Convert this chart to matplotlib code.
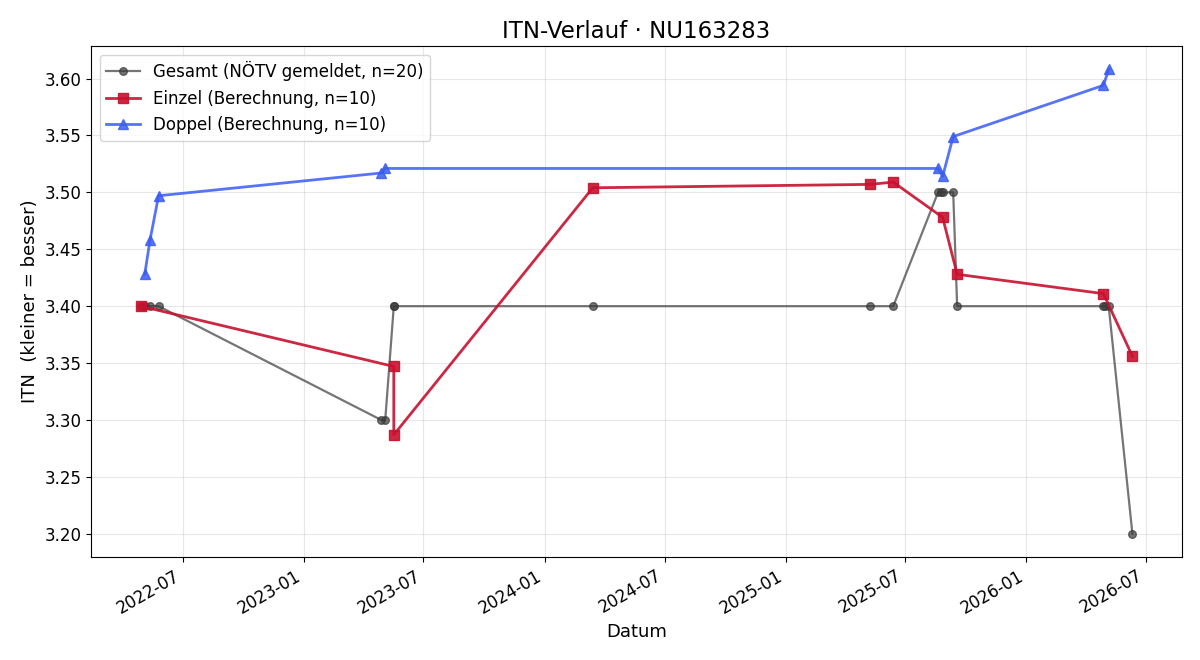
import pandas as pd
import matplotlib
matplotlib.use("Agg")
import matplotlib.pyplot as plt
import matplotlib.dates as mdates

# ===== Daten =====
gesamt_datum = ["2022-04-28", "2022-05-04", "2022-05-12", "2022-05-25",
                "2023-04-28", "2023-05-04", "2023-05-17", "2023-05-17",
                "2024-03-14", "2025-05-09", "2025-06-13", "2025-08-20",
                "2025-08-24", "2025-08-27", "2025-09-12", "2025-09-18",
                "2026-04-28", "2026-04-30", "2026-05-06", "2026-06-11"]
gesamt_itn = [3.40, 3.40, 3.40, 3.40,
              3.30, 3.30, 3.40, 3.40,
              3.40, 3.40, 3.40, 3.50,
              3.50, 3.50, 3.50, 3.40,
              3.40, 3.40, 3.40, 3.20]

einzel_datum = ["2022-04-28", "2023-05-17", "2023-05-17", "2024-03-14",
                "2025-05-09", "2025-06-13", "2025-08-27", "2025-09-18",
                "2026-04-28", "2026-06-11"]
einzel_itn = [3.400, 3.347, 3.287, 3.504, 3.507, 3.509, 3.478, 3.428,
              3.411, 3.356]

doppel_datum = ["2022-05-04", "2022-05-12", "2022-05-25", "2023-04-28",
                "2023-05-04", "2025-08-20", "2025-08-27", "2025-09-12",
                "2026-04-28", "2026-05-06"]
doppel_itn = [3.428, 3.458, 3.497, 3.517, 3.521, 3.521, 3.514, 3.549,
              3.594, 3.608]

spieler = "NU163283"

# ===== Grafik =====
fig, ax = plt.subplots(figsize=(12, 6.6), dpi=100)

ax.plot(pd.to_datetime(gesamt_datum), gesamt_itn, marker="o", markersize=5.5,
        linewidth=1.6, color="#3a3a3a", alpha=0.7,
        label=f"Gesamt (NÖTV gemeldet, n={len(gesamt_itn)})")
ax.plot(pd.to_datetime(einzel_datum), einzel_itn, marker="s", markersize=7,
        linewidth=2, color="#c8102e", alpha=0.9,
        label=f"Einzel (Berechnung, n={len(einzel_itn)})")
ax.plot(pd.to_datetime(doppel_datum), doppel_itn, marker="^", markersize=7,
        linewidth=2, color="#3a5cf5", alpha=0.85,
        label=f"Doppel (Berechnung, n={len(doppel_itn)})")

ax.set_title(f"ITN-Verlauf · {spieler}", fontsize=16.5)
ax.set_xlabel("Datum", fontsize=13)
ax.set_ylabel("ITN  (kleiner = besser)", fontsize=13)
ax.grid(True, alpha=0.3)
ax.legend(loc="upper left", fontsize=12)

ax.xaxis.set_major_locator(mdates.MonthLocator(bymonth=[1, 7]))
ax.xaxis.set_major_formatter(mdates.DateFormatter("%Y-%m"))
ax.yaxis.set_major_formatter(matplotlib.ticker.FormatStrFormatter("%.2f"))
ax.tick_params(labelsize=12)
fig.autofmt_xdate()

fig.subplots_adjust(left=0.076, right=0.985, top=0.930, bottom=0.156)
plt.savefig("out.png")
